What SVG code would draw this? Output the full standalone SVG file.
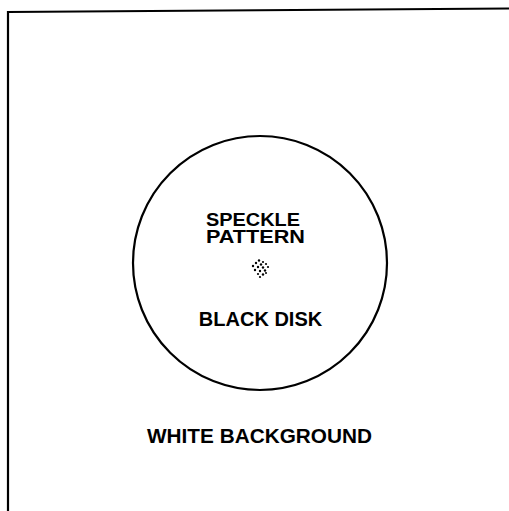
<svg xmlns="http://www.w3.org/2000/svg" width="509" height="511" viewBox="0 0 509 511">
<style>
.frame{fill:none;stroke:#000;stroke-width:2.2}
.lbl{font-family:"Liberation Sans",Arial,sans-serif;font-weight:bold;font-size:20px;fill:#000}
.sm{font-size:19px}
.dot{fill:#000}
</style>
<rect width="509" height="511" fill="#fff"/>
<g id="frame">
<path class="frame" d="M8,511 L8,12 L509,8.5"/>
</g>
<g id="disk">
<circle cx="260" cy="263" r="127" class="frame"/>
<text class="lbl" x="260.5" y="326" text-anchor="middle">BLACK DISK</text>
</g>
<g id="speckle">
<text class="lbl sm" x="206" y="225.5" textLength="94" lengthAdjust="spacingAndGlyphs">SPECKLE</text>
<text class="lbl sm" x="206" y="243" textLength="99" lengthAdjust="spacingAndGlyphs">PATTERN</text>
<g class="dot">
<circle cx="259" cy="260.5" r="1.2"/>
<circle cx="263" cy="262" r="1.1"/>
<circle cx="256" cy="263" r="1.2"/>
<circle cx="261" cy="264.5" r="1.2"/>
<circle cx="266" cy="264" r="1.1"/>
<circle cx="253" cy="266" r="1.2"/>
<circle cx="258" cy="267" r="1.2"/>
<circle cx="263" cy="267.5" r="1.2"/>
<circle cx="268" cy="267" r="1.1"/>
<circle cx="255" cy="270" r="1.2"/>
<circle cx="260" cy="271" r="1.2"/>
<circle cx="265" cy="270.5" r="1.2"/>
<circle cx="258" cy="274" r="1.1"/>
<circle cx="263" cy="274.5" r="1.2"/>
<circle cx="260" cy="277" r="1.1"/>
<circle cx="266" cy="273" r="1"/>
</g>
</g>
<g id="background">
<text class="lbl" x="259.5" y="443" text-anchor="middle" textLength="225" lengthAdjust="spacingAndGlyphs">WHITE BACKGROUND</text>
</g>
</svg>
